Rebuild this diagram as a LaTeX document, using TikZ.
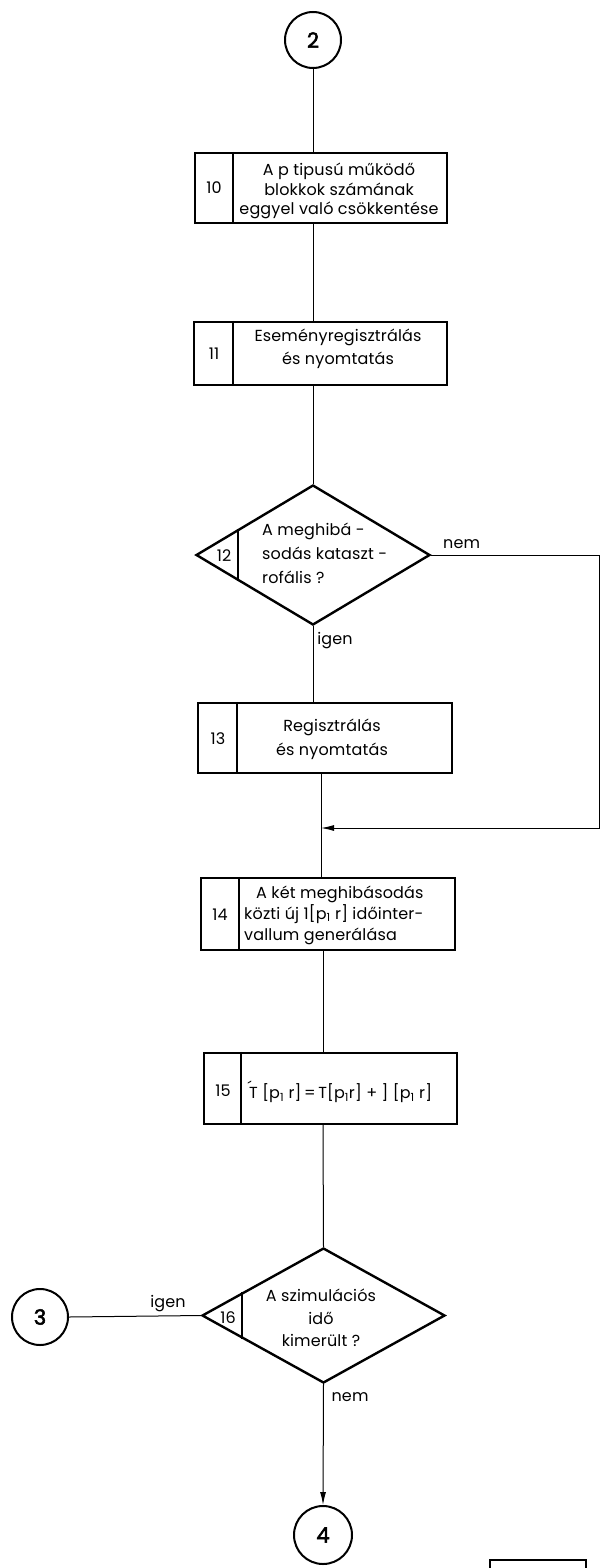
\documentclass[tikz,border=0pt]{standalone}
\usepackage{fontspec}
\setmainfont{Poppins}[LetterSpace=1.0]
\newfontfamily\circfont{Poppins}[FakeBold=2.5]
\usetikzlibrary{shapes.geometric,arrows.meta,calc}
\tikzset{
  boxframe/.style={draw, line width=2.2pt, inner sep=0pt},
  thickline/.style={line width=2.2pt},
  conn/.style={line width=1pt},
  arr/.style={-{Latex[length=13pt,width=6pt]}},
  txt/.style={inner sep=0pt, font=\fontsize{16}{19.5}\selectfont},
  num/.style={inner sep=0pt, font=\fontsize{16}{19.5}\selectfont},
  lbl/.style={inner sep=0pt, font=\fontsize{16}{19.5}\selectfont},
  conncirc/.style={draw, circle, line width=2pt, inner sep=0pt, font=\circfont\fontsize{21}{24}\selectfont},
  decision/.style={draw, diamond, line width=2.4pt, inner sep=0pt}
}
\newcommand{\acT}{\rlap{\raisebox{0.55ex}{\kern-1.5pt´}}T}
\begin{document}
\begin{tikzpicture}[x=1pt,y=-1pt]
\useasboundingbox (0,0) rectangle (608,1568);
\fill[white] (0,0) rectangle (608,1568);

% connectors (circles)
\node[conncirc, minimum size=56pt] (c2) at (313,40) {2};
\node[conncirc, minimum size=56pt] (c3) at (40,1317) {3};
\node[conncirc, minimum size=58pt] (c4) at (323,1535) {4};

% box 10
\node[boxframe, minimum width=252pt, minimum height=70pt] (b10) at (321,188) {};
\draw[thickline] ($(b10.north west)+(39,0)$) -- ($(b10.south west)+(39,0)$);
\node[num] (n10) at (214,188) {10};
\node[txt, align=center] (t10) at (339,191) {A p tipusú működő\\blokkok számának\\eggyel való csökkentése};

% box 11
\node[boxframe, minimum width=253pt, minimum height=63pt] (b11) at (320.5,353.5) {};
\draw[thickline] ($(b11.north west)+(40,0)$) -- ($(b11.south west)+(40,0)$);
\node[num] (n11) at (214,354) {11};
\node[txt, align=center, font=\fontsize{16}{23}\selectfont] (t11) at (338,349) {Eseményregisztrálás\\és nyomtatás};

% decision 12
\node[decision, minimum width=234pt, minimum height=140pt] (d12) at (313,555) {};
\draw[thickline] ($(d12.west)!0.367!(d12.north)$) -- ($(d12.west)!0.367!(d12.south)$);
\node[num] (n12) at (224,556) {12};
\node[txt, align=left, anchor=west, font=\fontsize{16}{24}\selectfont] (t12) at (262,553) {A meghibá -\\sodás kataszt -\\rofális ?};

% box 13
\node[boxframe, minimum width=254pt, minimum height=70pt] (b13) at (325,738) {};
\draw[thickline] ($(b13.north west)+(40,0)$) -- ($(b13.south west)+(40,0)$);
\node[num] (n13) at (218,739) {13};
\node[txt, align=center, font=\fontsize{16}{24}\selectfont] (t13) at (332,739) {Regisztrálás\\és nyomtatás};

% box 14
\node[boxframe, minimum width=254pt, minimum height=72pt] (b14) at (328,914) {};
\draw[thickline] ($(b14.north west)+(39,0)$) -- ($(b14.south west)+(39,0)$);
\node[num] (n14) at (220,915) {14};
\node[txt, align=left, anchor=west, font=\fontsize{16}{21}\selectfont] (t14) at (244,915) {\hspace*{12pt}A két meghibásodás\\közti új 1[p\textsubscript{1} r] időinter-\\vallum generálása};

% box 15
\node[boxframe, minimum width=253pt, minimum height=71pt] (b15) at (330.5,1088.5) {};
\draw[thickline] ($(b15.north west)+(38,0)$) -- ($(b15.south west)+(38,0)$);
\node[num] (n15) at (223,1091) {15};
\node[txt, anchor=west] (t15) at (249,1092) {\acT\ [p\textsubscript{1} r]\,=\,T[p\textsubscript{1}r] + ] [p\textsubscript{1} r]};

% decision 16
\node[decision, minimum width=243pt, minimum height=135pt] (d16) at (323.5,1315.5) {};
\draw[thickline] ($(d16.west)!0.337!(d16.north)$) -- ($(d16.west)!0.337!(d16.south)$);
\node[num] (n16) at (228,1318) {16};
\node[txt, align=center, font=\fontsize{16}{22.5}\selectfont] (t16) at (321,1318) {A szimulációs\\idő\\kimerült ?};

% line x positions
\coordinate (L1) at (313,0);
\coordinate (L2) at (321,0);
\coordinate (L3) at (323,0);
\coordinate (rc) at (599,828);
\coordinate (mj) at (321,828);

% flow lines
\draw[conn] (c2.south) -- (L1 |- b10.north);
\draw[conn] (L1 |- b10.south) -- (L1 |- b11.north);
\draw[conn] (L1 |- b11.south) -- (d12.north);
\draw[conn] (d12.south) -- (d12.south |- b13.north);
\draw[conn] (L2 |- b13.south) -- (L2 |- b14.north);
\draw[conn, arr] (d12.east) -| (rc) -- (mj);
\draw[conn] (L3 |- b14.south) -- (L3 |- b15.north);
\draw[conn] (L3 |- b15.south) -- (d16.north);
\draw[conn, arr] (d16.south) -- (c4.north);
\draw[conn] (d16.west) -- (c3.east);

% labels
\node[lbl, anchor=south west] (lnem1) at (443,549) {nem};
\node[lbl] (ligen1) at (335,641) {igen};
\node[lbl] (ligen2) at (168,1304) {igen};
\node[lbl] (lnem2) at (350,1397) {nem};

% partial frame at bottom edge
\draw[line width=1.6pt] (490,1580) -- (490,1560) -- (586,1560) -- (586,1580);
\end{tikzpicture}
\end{document}
